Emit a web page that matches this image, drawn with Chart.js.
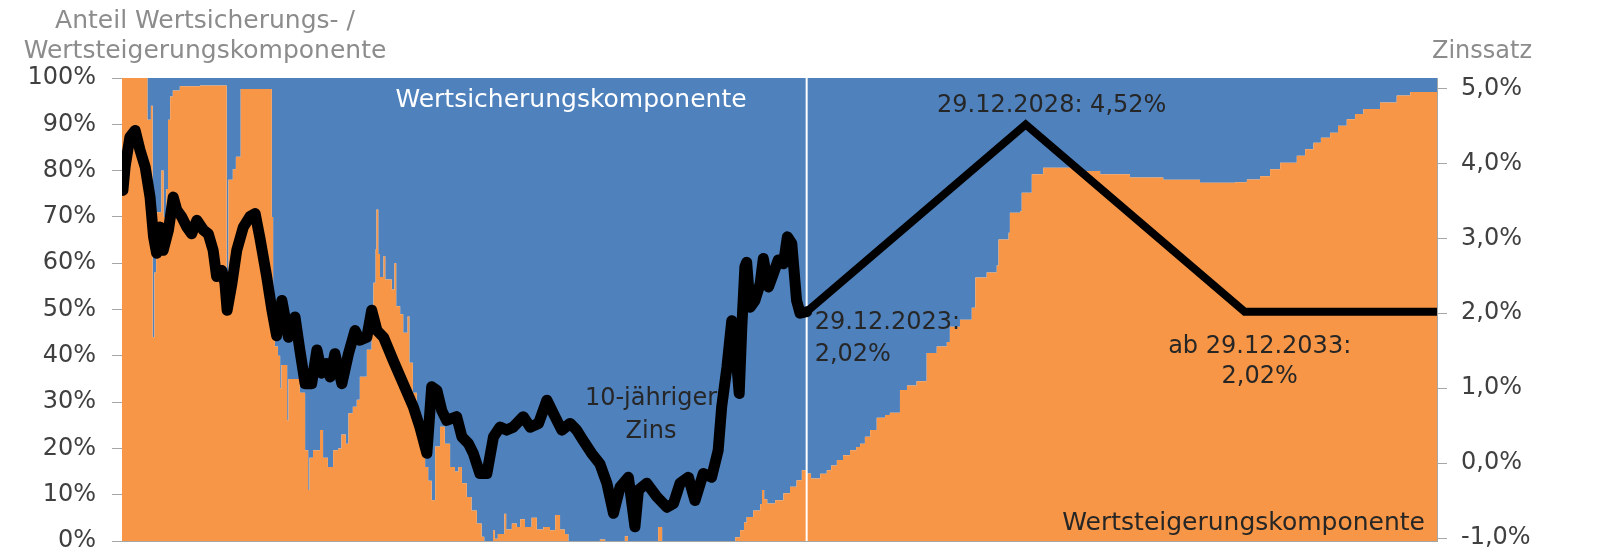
<!DOCTYPE html>
<html lang="de">
<head>
<meta charset="utf-8">
<title>Anteil Wertsicherungs- / Wertsteigerungskomponente</title>
<script src="https://cdn.jsdelivr.net/npm/chart.js@4.4.1/dist/chart.umd.min.js"></script>
<style>
  html, body { margin: 0; padding: 0; background: #fff; }
</style>
</head>
<body>
<canvas id="chart" width="1607" height="551"></canvas>
<script>
// Zeitpunkte (Dezimaljahre) fuer die Aufteilung
const shareYears = [
  2008.36, 2008.94, 2009.02, 2009.06, 2009.10, 2009.14, 2009.26, 2009.31, 2009.37, 2009.41,
  2009.46, 2009.52, 2009.68, 2010.14, 2010.75, 2010.79, 2010.89, 2010.96, 2011.07, 2011.78,
  2011.81, 2011.85, 2011.92, 2011.97, 2012.00, 2012.13, 2012.16, 2012.42, 2012.54, 2012.61,
  2012.64, 2012.72, 2012.88, 2012.95, 2013.06, 2013.18, 2013.29, 2013.37, 2013.47, 2013.53,
  2013.63, 2013.72, 2013.79, 2013.95, 2014.06, 2014.10, 2014.15, 2014.17, 2014.21, 2014.25,
  2014.33, 2014.37, 2014.52, 2014.58, 2014.62, 2014.71, 2014.78, 2014.88, 2014.92, 2015.00,
  2015.09, 2015.20, 2015.28, 2015.35, 2015.43, 2015.51, 2015.62, 2015.73, 2015.85, 2015.96,
  2016.04, 2016.12, 2016.23, 2016.34, 2016.46, 2016.57, 2016.63, 2016.83, 2016.87, 2016.94,
  2017.09, 2017.13, 2017.26, 2017.37, 2017.45, 2017.56, 2017.71, 2017.83, 2017.98, 2018.13,
  2018.25, 2018.36, 2018.47, 2018.55, 2019.27, 2019.39, 2019.84, 2019.91, 2020.60, 2020.69,
  2022.36, 2022.47, 2022.56, 2022.62, 2022.77, 2022.93, 2022.97, 2023.02, 2023.09, 2023.27,
  2023.46, 2023.61, 2023.76, 2023.88,
  2023.99, 2024.09, 2024.30, 2024.45, 2024.55, 2024.68, 2024.82, 2024.98, 2025.12, 2025.21,
  2025.32, 2025.44, 2025.59, 2025.78, 2025.89, 2026.12, 2026.28, 2026.50, 2026.73, 2026.96,
  2027.19, 2027.26, 2027.49, 2027.76, 2027.84, 2028.10, 2028.33, 2028.37, 2028.60, 2028.63,
  2028.86, 2028.90, 2029.13, 2029.39, 2029.85, 2030.23, 2030.69, 2031.37, 2032.13, 2032.97,
  2033.77, 2034.04, 2034.34, 2034.57, 2034.80, 2035.18, 2035.37, 2035.56, 2035.73, 2035.94,
  2036.12, 2036.32, 2036.51, 2036.70, 2037.08, 2037.46, 2037.77, 2038.38
];

// Anteil Wertsteigerungskomponente in %
const wertsteigerung = [
  100, 91, 94, 44, 58, 71, 80, 70, 76, 91,
  96, 97.3, 98.2, 98.4, 50, 78, 80.3, 83, 97.6, 70,
  52, 42, 40, 33, 38, 26, 35, 32, 19.6, 11,
  18, 19.6, 24, 18, 16, 19.6, 20, 23, 21, 27.6,
  29, 30.5, 35.5, 41.3, 48.5, 55.8, 63, 71.6, 62, 57,
  61.5, 56.5, 54.3, 60, 50.7, 49, 45, 48.5, 38.5, 32,
  26, 20.4, 16, 13, 8.8, 20.4, 24.7, 21, 16, 15,
  16, 12.5, 9.5, 6.6, 3.8, 0.9, 0, 2.3, 0.5, 1.5,
  5.9, 2.5, 3.8, 3, 4.7, 3, 5, 2.5, 3, 2.3,
  5.6, 2.5, 1.5, 0, 0.3, 0, 1, 0, 3, 0,
  0.8, 2.3, 4, 5.2, 6.6, 8, 11, 9, 8.1, 8.8,
  10.3, 11.7, 13.1, 15.3,
  14.6, 13.5, 14.5, 15.3, 16.3, 17.5, 18.5, 19.6, 20.3, 21,
  22.5, 24, 26.6, 27.2, 27.7, 32.6, 33.6, 34.5, 40.6, 42,
  43, 46.3, 47.8, 50.4, 56.9, 58, 59.5, 65.1, 66.6, 70.9,
  71.2, 75.2, 79.2, 80.6, 80.6, 79.9, 79.2, 78.5, 78, 77.4,
  77.5, 78.1, 78.8, 80.3, 81.7, 83.2, 84.6, 86, 87.1, 88.2,
  89.7, 91.1, 92.2, 93.3, 94.7, 96.2, 97, 97
];

// Wertsicherungskomponente = Rest auf 100 %
const wertsicherung = wertsteigerung.map(v => 100 - v);

// 10-jaehriger Zins (historisch), in %
const rateYears = [
  2008.38, 2008.43, 2008.54, 2008.66, 2008.77, 2008.89, 2009.00, 2009.08, 2009.15, 2009.23,
  2009.30, 2009.42, 2009.53, 2009.61, 2009.72, 2009.84, 2009.95, 2010.07, 2010.22, 2010.33,
  2010.44, 2010.52, 2010.64, 2010.71, 2010.76, 2010.87, 2010.98, 2011.13, 2011.28, 2011.40,
  2011.51, 2011.66, 2011.78, 2011.89, 2012.01, 2012.08, 2012.16, 2012.31, 2012.42, 2012.54,
  2012.69, 2012.81, 2012.92, 2013.03, 2013.11, 2013.22, 2013.38, 2013.53, 2013.68, 2013.79,
  2013.95, 2014.06, 2014.18, 2014.33, 2014.55, 2014.78, 2015.01, 2015.16, 2015.32, 2015.43,
  2015.55, 2015.66, 2015.77, 2016.00, 2016.12, 2016.27, 2016.38, 2016.53, 2016.69, 2016.84,
  2016.99, 2017.14, 2017.29, 2017.52, 2017.68, 2017.87, 2018.06, 2018.21, 2018.40, 2018.59,
  2018.74, 2018.89, 2019.08, 2019.27, 2019.43, 2019.58, 2019.73, 2019.92, 2020.07, 2020.15,
  2020.34, 2020.57, 2020.80, 2020.95, 2021.10, 2021.29, 2021.44, 2021.63, 2021.82, 2021.97,
  2022.05, 2022.17, 2022.28, 2022.40, 2022.45, 2022.51, 2022.58, 2022.62, 2022.70, 2022.81,
  2022.93, 2023.00, 2023.12, 2023.23, 2023.34, 2023.46, 2023.55, 2023.65, 2023.76, 2023.84,
  2023.99
];
const rateValues = [
  3.64, 3.95, 4.35, 4.44, 4.18, 3.95, 3.55, 3.02, 2.80, 3.15,
  2.84, 3.11, 3.55, 3.38, 3.29, 3.15, 3.06, 3.24, 3.11, 3.06,
  2.84, 2.49, 2.57, 2.40, 2.04, 2.40, 2.84, 3.15, 3.29, 3.33,
  3.00, 2.50, 2.05, 1.70, 2.17, 1.95, 1.68, 1.95, 1.51, 1.06,
  1.06, 1.51, 1.20, 1.33, 1.15, 1.46, 1.06, 1.46, 1.77, 1.64,
  1.68, 2.04, 1.77, 1.68, 1.37, 1.06, 0.75, 0.48, 0.13, 1.02,
  0.97, 0.70, 0.57, 0.62, 0.35, 0.26, 0.13, -0.14, -0.14, 0.35,
  0.48, 0.44, 0.48, 0.62, 0.48, 0.53, 0.84, 0.66, 0.44, 0.53,
  0.44, 0.30, 0.13, -0.01, -0.27, -0.67, -0.32, -0.19, -0.85, -0.36,
  -0.27, -0.45, -0.59, -0.54, -0.27, -0.19, -0.50, -0.14, -0.19, 0.17,
  0.75, 1.28, 1.90, 1.28, 0.93, 1.82, 2.62, 2.68, 2.08, 2.17,
  2.40, 2.73, 2.35, 2.53, 2.71, 2.66, 3.02, 2.93, 2.17, 2.00,
  2.02
];

// Zinsannahme ab 29.12.2023
const projYears = [2023.99, 2028.99, 2033.99, 2038.38];
const projValues = [2.02, 4.52, 2.02, 2.02];

// Achsen
const leftTicks = [0, 10, 20, 30, 40, 50, 60, 70, 80, 90, 100];
const rightTicks = [-1, 0, 1, 2, 3, 4, 5];

const ORANGE = '#F79646';
const BLUE = '#4F81BD';
const AXIS = '#a6a6a6';
const FONT = '"DejaVu Sans", sans-serif';

Chart.defaults.font.family = FONT;
Chart.defaults.font.size = 24;

const xy = (xs, ys) => xs.map((x, i) => ({ x: x, y: ys[i] }));

// Beschriftungen, Trennlinie am 29.12.2023
const labelsPlugin = {
  id: 'labels',
  afterDatasetDraw(chart, args) {
    if (args.index !== 0) return;
    const { ctx, chartArea } = chart;
    const x = chart.scales.x.getPixelForValue(2023.99);
    ctx.save();
    ctx.strokeStyle = '#ffffff';
    ctx.lineWidth = 2;
    ctx.beginPath();
    ctx.moveTo(x, chartArea.top);
    ctx.lineTo(x, chartArea.bottom);
    ctx.stroke();
    ctx.restore();
  },
  afterDraw(chart) {
    const { ctx, chartArea } = chart;
    const xs = chart.scales.x;
    const ys = chart.scales.y1;
    const text = (str, x, y, align, color, size) => {
      ctx.font = size + 'px ' + FONT;
      ctx.fillStyle = color;
      ctx.textAlign = align;
      ctx.textBaseline = 'alphabetic';
      ctx.fillText(str, x, y);
    };
    ctx.save();

    // Achsentitel
    text('Anteil Wertsicherungs- /', 205, 28, 'center', '#8c8c8c', 25);
    text('Wertsteigerungskomponente', 205, 58, 'center', '#8c8c8c', 25);
    text('Zinssatz', 1482, 58, 'center', '#8c8c8c', 24);

    // Flaechen
    text('Wertsicherungskomponente', chartArea.left + 449, 107, 'center', '#ffffff', 25);
    text('Wertsteigerungskomponente', chartArea.right - 12, 530, 'right', '#262626', 25);

    // Zinslinie
    text('10-jähriger', 651, 405, 'center', '#262626', 24);
    text('Zins', 651, 438, 'center', '#262626', 24);

    const x23 = xs.getPixelForValue(2023.99);
    const y202 = ys.getPixelForValue(2.02);
    text('29.12.2023:', x23 + 8, y202 + 17, 'left', '#262626', 24);
    text('2,02%', x23 + 8, y202 + 49, 'left', '#262626', 24);

    text('29.12.2028: 4,52%', xs.getPixelForValue(2028.99) + 26, ys.getPixelForValue(4.52) - 12, 'center', '#262626', 24);

    const x33 = xs.getPixelForValue(2033.99) + 15;
    text('ab 29.12.2033:', x33, y202 + 41, 'center', '#262626', 24);
    text('2,02%', x33, y202 + 71, 'center', '#262626', 24);

    ctx.restore();
  }
};

new Chart(document.getElementById('chart'), {
  type: 'line',
  data: {
    datasets: [
      {
        label: 'Wertsteigerungskomponente',
        data: xy(shareYears, wertsteigerung),
        backgroundColor: ORANGE,
        borderWidth: 0,
        fill: 'origin',
        stepped: true,
        yAxisID: 'y'
      },
      {
        label: 'Wertsicherungskomponente',
        data: xy(shareYears, wertsicherung),
        backgroundColor: BLUE,
        borderWidth: 0,
        fill: '-1',
        stepped: true,
        yAxisID: 'y'
      },
      {
        label: '10-jähriger Zins',
        data: xy(rateYears, rateValues),
        borderColor: '#000000',
        borderWidth: 11,
        borderJoinStyle: 'round',
        borderCapStyle: 'round',
        fill: false,
        order: -1,
        yAxisID: 'y1'
      },
      {
        label: 'Zinsannahme',
        data: xy(projYears, projValues),
        borderColor: '#000000',
        borderWidth: 8,
        borderJoinStyle: 'miter',
        fill: false,
        order: -1,
        yAxisID: 'y1'
      }
    ]
  },
  options: {
    responsive: false,
    animation: false,
    layout: { padding: { top: 78, bottom: 10, left: 0, right: 0 } },
    elements: { point: { radius: 0 }, line: { tension: 0 } },
    plugins: {
      legend: { display: false },
      tooltip: { enabled: false }
    },
    scales: {
      x: {
        type: 'linear',
        min: 2008.36,
        max: 2038.38,
        z: 1,
        ticks: { display: false },
        grid: { display: false },
        border: { color: AXIS },
        afterFit: s => { s.height = 0; s.paddingLeft = 0; s.paddingRight = 0; }
      },
      y: {
        type: 'linear',
        position: 'left',
        stacked: true,
        min: 0,
        max: 100,
        z: 1,
        afterBuildTicks: s => { s.ticks = leftTicks.map(v => ({ value: v })); },
        ticks: {
          color: '#404040',
          padding: 16,
          callback: v => v + '%'
        },
        grid: { drawOnChartArea: false, tickLength: 10, color: AXIS },
        border: { color: AXIS },
        afterFit: s => { s.width = 122; s.paddingTop = 0; s.paddingBottom = 0; }
      },
      y1: {
        type: 'linear',
        position: 'right',
        min: -1.04,
        max: 5.14,
        z: 1,
        afterBuildTicks: s => { s.ticks = rightTicks.map(v => ({ value: v })); },
        ticks: {
          color: '#404040',
          padding: 14,
          callback: v => v.toFixed(1).replace('.', ',') + '%'
        },
        grid: { drawOnChartArea: false, tickLength: 10, color: AXIS },
        border: { color: AXIS },
        afterFit: s => { s.width = 170; s.paddingTop = 0; s.paddingBottom = 0; }
      }
    }
  },
  plugins: [labelsPlugin]
});
</script>
</body>
</html>
